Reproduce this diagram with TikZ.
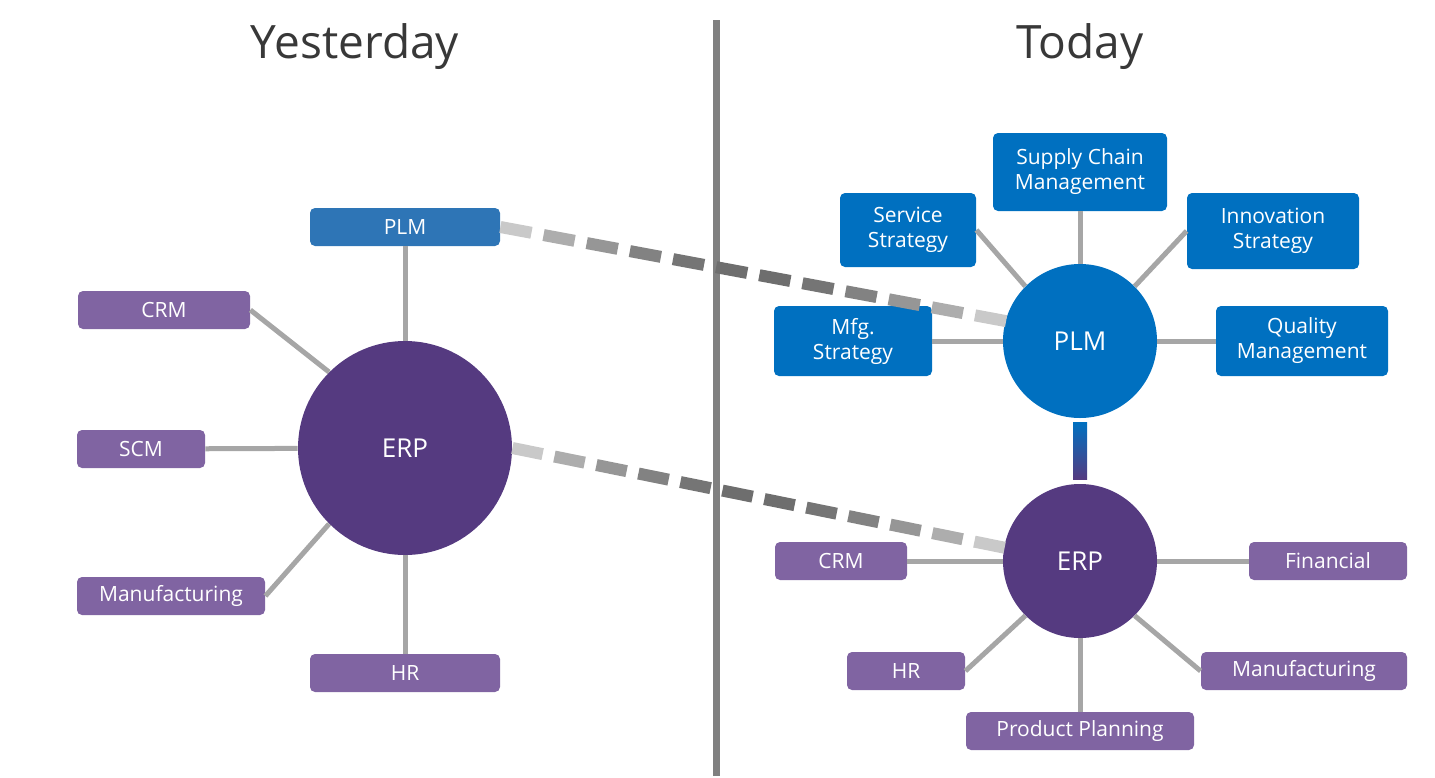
\documentclass[tikz,border=0pt]{standalone}
\usepackage{fontspec}
\setmainfont{Open Sans}
\usetikzlibrary{calc}
\definecolor{plmblue}{HTML}{0070C0}
\definecolor{boxblue}{HTML}{2E75B6}
\definecolor{erppurple}{HTML}{553A80}
\definecolor{boxpurple}{HTML}{8064A2}
\definecolor{linkgray}{HTML}{A6A6A6}
\tikzset{
    box/.style={rectangle,rounded corners=2.5pt,text=white,inner sep=0,align=center,font=\fontsize{10.5}{12.5}\selectfont},
    pbox/.style={box,fill=boxpurple},
    bbox/.style={box,fill=plmblue},
    hub/.style={circle,text=white,inner sep=0,font=\fontsize{13}{14}\selectfont},
    title/.style={text=black!78,font=\fontsize{23}{26}\selectfont},
    link/.style={draw=linkgray,line width=2.5pt},
    dashseg/.style={line width=6pt}
    }
\begin{document}
\begin{tikzpicture}[x=0.5pt,y=-0.5pt]
    \useasboundingbox (0,0) rectangle (1435,777);
    % titles and divider
    \node(yest)[title] at (355,47) {Yesterday};
    \node(tod)[title] at (1080,47) {Today};
    \coordinate(dtop) at (716,20);
    \coordinate(dbot) at (716,776);
    \draw[draw=black!50,line width=3.5pt] (dtop) -- (dbot);
    % yesterday
    \node(erp0)[hub,fill=erppurple,minimum size=107pt] at (405,448) {ERP};
    \node(plm0)[box,fill=boxblue,minimum width=95pt,minimum height=19pt] at (405,227) {PLM};
    \node(crm0)[pbox,minimum width=86pt,minimum height=19pt] at (164,310) {CRM};
    \node(scm0)[pbox,minimum width=64pt,minimum height=19pt] at (141,449) {SCM};
    \node(mfg0)[pbox,minimum width=94pt,minimum height=19pt] at (171,596) {Manufacturing};
    \node(hr0)[pbox,minimum width=95pt,minimum height=19pt] at (405,673) {HR};
    \draw[link] (plm0) -- (erp0);
    \draw[link] (crm0.east) -- (erp0.135);
    \draw[link] (scm0) -- (erp0);
    \draw[link] (mfg0.east) -- (erp0.225);
    \draw[link] (hr0) -- (erp0);
    % today
    \node(plm1)[hub,fill=plmblue,minimum size=77pt] at (1080,341) {PLM};
    \node(erp1)[hub,fill=erppurple,minimum size=77pt] at (1080,561) {ERP};
    \node(scm1)[bbox,minimum width=87pt,minimum height=39pt] at (1080,172) {Supply Chain\\Management};
    \node(svc1)[bbox,minimum width=68pt,minimum height=37pt] at (908,230) {Service\\Strategy};
    \node(inn1)[bbox,minimum width=86pt,minimum height=38pt] at (1273,231) {Innovation\\Strategy};
    \node(mfs1)[bbox,minimum width=79pt,minimum height=35pt] at (853,341) {Mfg.\\Strategy};
    \node(qm1)[bbox,minimum width=86pt,minimum height=35pt] at (1302,341) {Quality\\Management};
    \node(crm1)[pbox,minimum width=66pt,minimum height=19pt] at (841,561) {CRM};
    \node(fin1)[pbox,minimum width=79pt,minimum height=19pt] at (1328,561) {Financial};
    \node(hr1)[pbox,minimum width=59pt,minimum height=19pt] at (906,671) {HR};
    \node(mfg1)[pbox,minimum width=103pt,minimum height=19pt] at (1304,671) {Manufacturing};
    \node(pp1)[pbox,minimum width=114pt,minimum height=19pt] at (1080,731) {Product Planning};
    \draw[link] (scm1) -- (plm1);
    \draw[link] (svc1.east) -- (plm1.135);
    \draw[link] (inn1.west) -- (plm1.45);
    \draw[link] (mfs1) -- (plm1);
    \draw[link] (qm1) -- (plm1);
    \draw[link] (crm1) -- (erp1);
    \draw[link] (fin1) -- (erp1);
    \draw[link] (hr1.east) -- (erp1.225);
    \draw[link] (mfg1.west) -- (erp1.315);
    \draw[link] (pp1) -- (erp1);
    \shade[top color=plmblue,bottom color=erppurple] ($(plm1.south)+(-7,4)$) rectangle ($(erp1.north)+(7,-4)$);
    % dashed links between the two pictures
    \foreach \a/\b in {plm0.east/plm1.165,erp0.east/erp1.170}{
        \foreach \i in {0,...,11}{
            \pgfmathsetmacro\ta{\i/11.7}
            \pgfmathsetmacro\tb{\ta+0.72/11.7}
            \pgfmathtruncatemacro\k{18+40*sin(180*(\ta+0.03))}
            \draw[dashseg,draw=black!\k] ($(\a)!\ta!(\b)$) -- ($(\a)!\tb!(\b)$);
        }
    }
\end{tikzpicture}
\end{document}
